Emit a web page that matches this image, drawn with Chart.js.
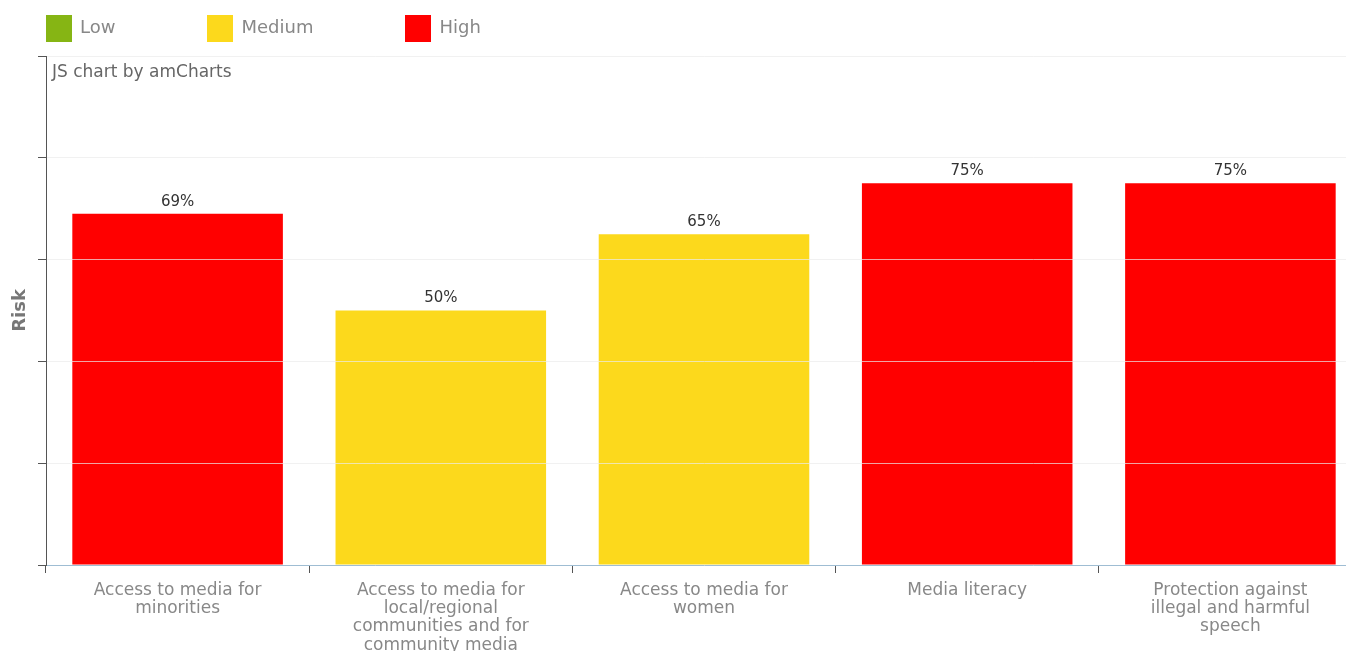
<!DOCTYPE html>
<html>
<head>
<meta charset="utf-8">
<script src="https://cdn.jsdelivr.net/npm/chart.js@4.4.1/dist/chart.umd.min.js"></script>
<style>
  body { margin: 0; overflow: hidden; background: #fff; width: 1346px; height: 651px; }
  #wrap { position: relative; width: 1362px; height: 651px; }
  #legend { position: absolute; left: 46px; top: 15px; font: 18px "DejaVu Sans", sans-serif; color: #888; }
  #legend span.item { display: inline-block; margin-right: 92px; vertical-align: top; }
  #legend span.box { display: inline-block; width: 26px; height: 27px; margin-right: 8px; vertical-align: middle; }
  #legend span.txt { vertical-align: middle; position: relative; top: -2px; }
  #credit { position: absolute; left: 52px; top: 61px; font: 17px "DejaVu Sans", sans-serif; color: #666; }
</style>
</head>
<body>
<div id="wrap">
  <canvas id="myChart" width="1362" height="651"></canvas>
  <div id="legend"></div>
  <div id="credit">JS chart by amCharts</div>
</div>
<script>
// data
const categories = [
  ['Access to media for', 'minorities'],
  ['Access to media for', 'local/regional', 'communities and for', 'community media'],
  ['Access to media for', 'women'],
  ['Media literacy'],
  ['Protection against', 'illegal and harmful', 'speech']
];
const riskValues = [69, 50, 65, 75, 75];
const riskLevels = ['High', 'Medium', 'Medium', 'High', 'High'];
const levelNames = ['Low', 'Medium', 'High'];
const levelColors = ['#86b514', '#fcd91c', '#ff0000'];
const yTicks = [0, 20, 40, 60, 80, 100];

// legend
const legend = document.getElementById('legend');
levelNames.forEach((name, i) => {
  const item = document.createElement('span');
  item.className = 'item';
  item.innerHTML = '<span class="box" style="background:' + levelColors[i] + '"></span><span class="txt">' + name + '</span>';
  legend.appendChild(item);
});

const barColors = riskLevels.map(l => levelColors[levelNames.indexOf(l)]);

// value labels above bars
const valueLabels = {
  id: 'valueLabels',
  afterDatasetsDraw(chart) {
    const ctx = chart.ctx;
    const meta = chart.getDatasetMeta(0);
    ctx.save();
    ctx.font = '15px "DejaVu Sans", sans-serif';
    ctx.fillStyle = '#333';
    ctx.textAlign = 'center';
    ctx.textBaseline = 'middle';
    meta.data.forEach((bar, i) => {
      ctx.fillText(riskValues[i] + '%', bar.x, bar.y - 12);
    });
    ctx.restore();
  }
};

const config = {
  type: 'bar',
  data: {
    labels: categories,
    datasets: [{
      label: 'Risk',
      data: riskValues,
      backgroundColor: barColors,
      borderWidth: 0,
      categoryPercentage: 1,
      barPercentage: 0.8
    }]
  },
  options: {
    responsive: false,
    animation: false,
    layout: { padding: { left: 8, top: 56, right: 0, bottom: 0 } },
    plugins: {
      legend: { display: false },
      tooltip: { enabled: false }
    },
    scales: {
      x: {
        grid: {
          drawOnChartArea: false,
          drawTicks: true,
          tickLength: 8,
          tickColor: '#555',
          offset: true
        },
        border: { color: '#9fbdd3', width: 1, z: 2 },
        ticks: {
          color: '#888',
          padding: 8,
          maxRotation: 0,
          autoSkip: false,
          font: { family: '"DejaVu Sans", sans-serif', size: 17, lineHeight: 1.08 }
        },
        afterFit(scale) { scale.height = 86; }
      },
      y: {
        min: 0,
        max: 100,
        afterBuildTicks(scale) { scale.ticks = yTicks.map(v => ({ value: v })); },
        ticks: { display: false },
        grid: {
          z: 1,
          color: 'rgba(235,235,235,0.7)',
          tickColor: '#555',
          tickLength: 8
        },
        border: { color: '#555', width: 1, z: 2 },
        title: {
          display: true,
          text: 'Risk',
          color: '#777',
          padding: { top: 2, bottom: 0 },
          font: { family: '"DejaVu Sans", sans-serif', size: 18, weight: 'bold', lineHeight: 1.2 }
        },
        afterFit(scale) { scale.width = 38; }
      }
    }
  },
  plugins: [valueLabels]
};

const myChart = new Chart(document.getElementById('myChart'), config);
</script>
</body>
</html>
